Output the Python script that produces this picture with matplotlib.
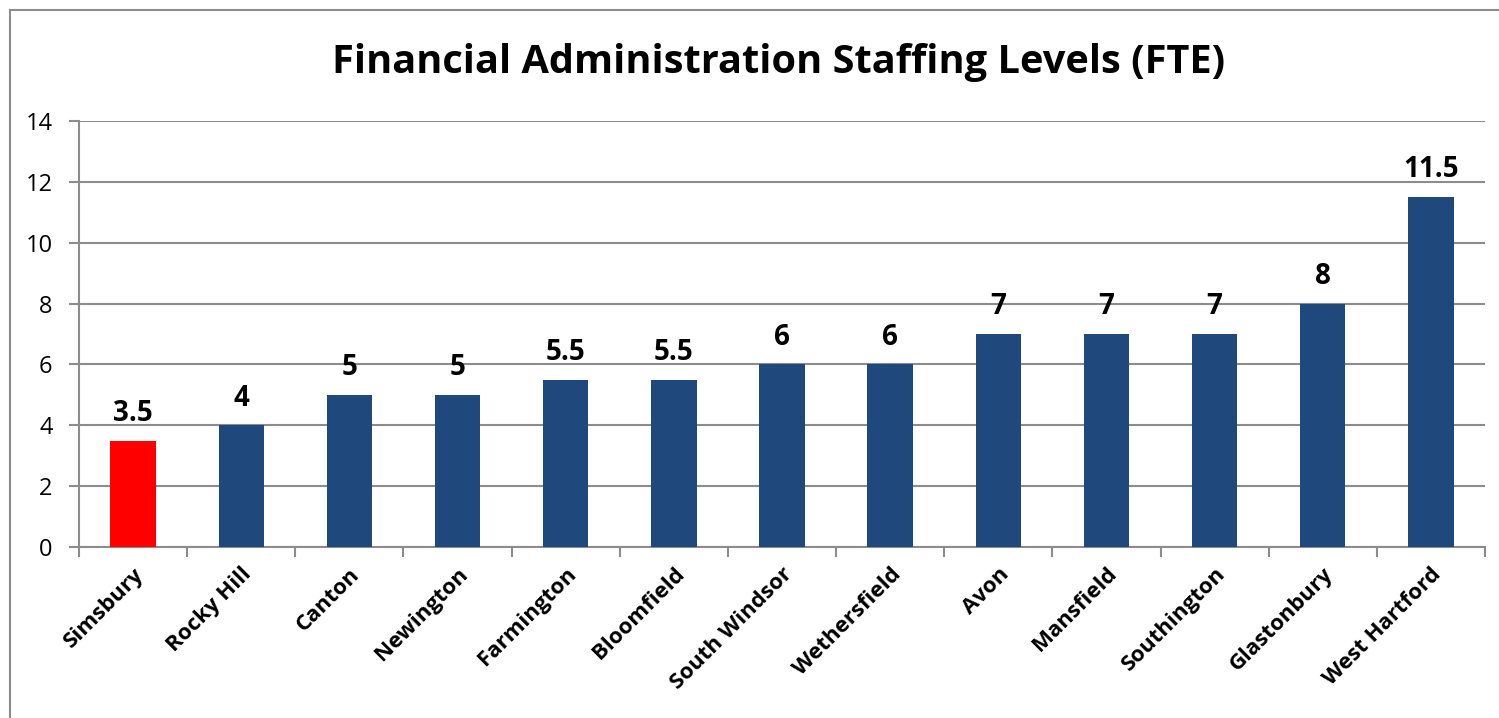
import matplotlib.pyplot as plt
from matplotlib.lines import Line2D

plt.rcParams['font.family'] = ['Open Sans', 'DejaVu Sans']

towns = ['Simsbury', 'Rocky Hill', 'Canton', 'Newington', 'Farmington',
         'Bloomfield', 'South Windsor', 'Wethersfield', 'Avon', 'Mansfield',
         'Southington', 'Glastonbury', 'West Hartford']
fte = [3.5, 4, 5, 5, 5.5, 5.5, 6, 6, 7, 7, 7, 8, 11.5]
label_text = ['3.5', '4', '5', '5', '5.5', '5.5', '6', '6', '7', '7', '7', '8', '11.5']
y_ticks = [0, 2, 4, 6, 8, 10, 12, 14]

navy = '#1f497d'
grid_col = '#8c8c8c'
colors = ['#ff0000'] + [navy] * (len(towns) - 1)

fig = plt.figure(figsize=(14.99, 7.18), dpi=100)
ax = fig.add_axes([79 / 1499, 1 - 547 / 718, (1485 - 79) / 1499, (547 - 121) / 718])

x = list(range(len(towns)))
ax.bar(x, fte, width=0.42, color=colors, zorder=3)

for xi, v, t in zip(x, fte, label_text):
    ax.text(xi, v + 0.42, t, ha='center', va='bottom', fontsize=20,
            fontweight='bold', color='black')

ax.set_xlim(-0.5, len(towns) - 0.5)
ax.set_ylim(0, 14)
ax.set_yticks(y_ticks)
ax.set_yticklabels([str(t) for t in y_ticks], fontsize=17)
ax.yaxis.grid(True, color=grid_col, linewidth=1.5, zorder=0)

# category ticks between bars
ax.set_xticks([i - 0.5 for i in range(len(towns) + 1)], minor=False)
ax.set_xticklabels([])
ax.set_xticks(x, minor=True)
ax.set_xticklabels(towns, minor=True, rotation=45, ha='right',
                   rotation_mode='anchor', fontsize=16, fontweight='bold')
ax.tick_params(axis='x', which='minor', length=0, pad=12)
ax.tick_params(axis='x', which='major', length=7, color=grid_col, width=1.5)
ax.tick_params(axis='y', length=7, color=grid_col, width=1.5, pad=12)

for s in ['top', 'right']:
    ax.spines[s].set_visible(False)
for s in ['left', 'bottom']:
    ax.spines[s].set_color(grid_col)
    ax.spines[s].set_linewidth(1.5)

fig.text(779 / 1499, 1 - 62 / 718, 'Financial Administration Staffing Levels (FTE)',
         ha='center', va='center', fontsize=28.6, fontweight='bold')

# outer chart frame
fig.add_artist(Line2D([10 / 1499, 1], [1 - 9.5 / 718, 1 - 9.5 / 718],
                      color=grid_col, linewidth=1.5, transform=fig.transFigure))
fig.add_artist(Line2D([10 / 1499, 10 / 1499], [0, 1 - 9.5 / 718],
                      color=grid_col, linewidth=1.5, transform=fig.transFigure))

fig.savefig('out.png', dpi=100)
